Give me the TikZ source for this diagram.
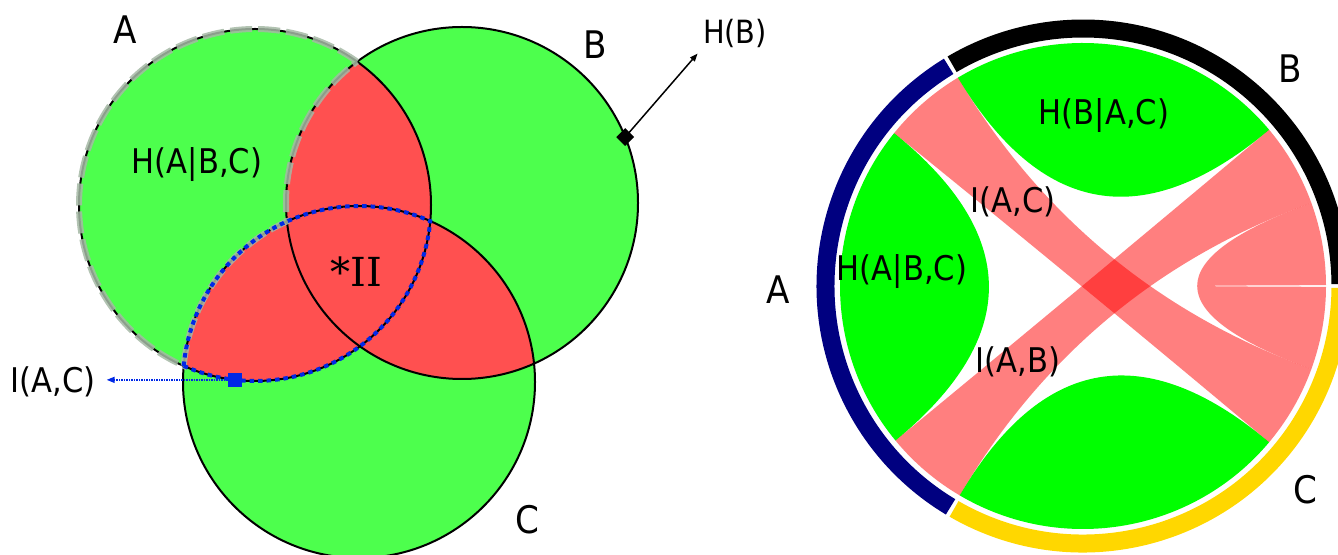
\documentclass[tikz,border=0pt]{standalone}
\usepackage{fontspec}
\newfontfamily\dvs[FakeStretch=0.9]{DejaVu Sans}
\newfontfamily\dvserif{DejaVu Serif}
\usetikzlibrary{calc,shapes.geometric,arrows.meta}
\definecolor{vgreen}{RGB}{77,255,77}
\definecolor{vred}{RGB}{255,80,80}
\definecolor{cgreen}{RGB}{0,255,0}
\definecolor{navyA}{RGB}{0,0,128}
\definecolor{goldC}{RGB}{255,215,0}
\definecolor{dotblue}{RGB}{0,40,230}
\definecolor{dashgray}{RGB}{165,185,165}
\begin{document}
\begin{tikzpicture}[x=1pt,y=1pt,
  lbl/.style={font=\dvs\fontsize{34}{34}\selectfont, inner sep=0},
  lblsm/.style={font=\dvs\fontsize{32}{32}\selectfont, inner sep=0},
  big/.style={font=\dvs\fontsize{38}{38}\selectfont, inner sep=0},
  serifbig/.style={font=\dvserif\fontsize{40}{40}\selectfont, inner sep=0},
  outline/.style={line width=2pt, draw=black},
  ribbon/.style={fill=red, fill opacity=0.5},
  selfchord/.style={fill=cgreen},
  ringseg/.style={line width=18pt},
  tip/.style={-{Triangle[length=8pt,width=6pt]}}]
\useasboundingbox (0,0) rectangle (1338,554);
\clip (0,0) rectangle (1338,554);

% ---------------- left: Venn diagram ----------------
\coordinate (A) at (255,349);
\coordinate (B) at (462,351);
\coordinate (C) at (359,172);
\fill[vgreen] (A) circle[radius=176];
\fill[vgreen] (B) circle[radius=176];
\fill[vgreen] (C) circle[radius=176];
\begin{scope}
  \clip (A) circle[radius=176];
  \fill[vred] (B) circle[radius=176];
  \fill[vred] (C) circle[radius=176];
\end{scope}
\begin{scope}
  \clip (B) circle[radius=176];
  \fill[vred] (C) circle[radius=176];
\end{scope}
\draw[outline] (A) circle[radius=176];
\draw[outline] (B) circle[radius=176];
\draw[outline] (C) circle[radius=176];

% H(A|B,C) region outline (dashed grey)
\draw[dashgray, opacity=0.85, line width=6pt, dash pattern=on 22pt off 6pt]
  ($(A)+(54.5:176)$) arc[start angle=54.5,end angle=246.1,radius=176]
  arc[start angle=174.75,end angle=114.15,radius=176]
  arc[start angle=186,end angle=126.6,radius=176];

% I(A,C) lens outline (blue dotted)
\draw[dotblue, line width=4pt, dash pattern=on 4.5pt off 4pt]
  ($(A)+(246.1:176)$) arc[start angle=246.1,end angle=354.75,radius=176]
  arc[start angle=66.1,end angle=174.75,radius=176] -- cycle;

\node[fill=dotblue, minimum size=14pt, inner sep=0] (sq) at ($(A)+(263.5:176)$) {};
\node[lbl] (iacl) at (53,172) {I(A,C)};
\draw[dotblue, densely dotted, line width=1.5pt, tip, shorten >=11pt] (sq.center) -- (sq.center -| iacl.east);

\node[diamond, fill=black, inner sep=0, minimum size=18pt] (dia) at ($(B)+(22:176)$) {};
\node[lblsm] (hb) at (735,521) {H(B)};
\draw[line width=1.5pt, tip, shorten >=8pt] (dia.center) -- (hb.south west);

\node[big] (labA) at (125,524) {A};
\node[big] (labB) at (595,509) {B};
\node[big] (labC) at (527,34) {C};
\node[lbl] (habc) at (197,389) {H(A|B,C)};
\node[serifbig] (ii) at (356,282) {*II};

% ---------------- right: chord diagram ----------------
\coordinate (O) at (1083,268);
\draw[ringseg, navyA] ($(O)+(121.45:257.5)$) arc[start angle=121.45,end angle=239.05,radius=257.5];
\draw[ringseg, black] ($(O)+(0.45:257.5)$) arc[start angle=0.45,end angle=120.55,radius=257.5];
\draw[ringseg, goldC] ($(O)+(239.95:257.5)$) arc[start angle=239.95,end angle=359.55,radius=257.5];

\foreach \n/\a in {a1/121, a2/141, a3/219.5, a4/239.5,
                   b0/0.2, b1/20, b2/40, b3/121,
                   c1/239.5, c2/320, c3/340, c4/359.8} {
  \coordinate (\n) at ($(O)+(\a:243)$);
  \coordinate (\n k) at ($(O)+(\a:81)$);
}
% self chords
\fill[selfchord] (b2) arc[start angle=40,end angle=121,radius=243]
  .. controls (b3k) and (b2k) .. (b2) -- cycle;
\fill[selfchord] (a2) arc[start angle=141,end angle=219.5,radius=243]
  .. controls (a3k) and (a2k) .. (a2) -- cycle;
\fill[selfchord] (c1) arc[start angle=239.5,end angle=320,radius=243]
  .. controls (c2k) and (c1k) .. (c1) -- cycle;
% ribbons
\fill[ribbon] (a1) arc[start angle=121,end angle=141,radius=243]
  .. controls (a2k) and (c2k) .. (c2) arc[start angle=320,end angle=340,radius=243]
  .. controls (c3k) and (a1k) .. (a1) -- cycle;
\fill[ribbon] (b1) arc[start angle=20,end angle=40,radius=243]
  .. controls (b2k) and (a3k) .. (a3) arc[start angle=219.5,end angle=239.5,radius=243]
  .. controls (a4k) and (b1k) .. (b1) -- cycle;
\fill[ribbon] (c3) arc[start angle=340,end angle=359.8,radius=243]
  .. controls (c4k) and (b0k) .. (b0) arc[start angle=0.2,end angle=20,radius=243]
  .. controls (b1k) and (c3k) .. (c3) -- cycle;

\node[big] (rA) at (778,264) {A};
\node[big] (rB) at (1290,485) {B};
\node[big] (rC) at (1305,64) {C};
\node[lbl] (rhb) at (1104,438) {H(B|A,C)};
\node[lbl] (rha) at (902,282) {H(A|B,C)};
\node[lbl] (riac) at (1013,352) {I(A,C)};
\node[lbl] (riab) at (1018,192) {I(A,B)};
\end{tikzpicture}
\end{document}
